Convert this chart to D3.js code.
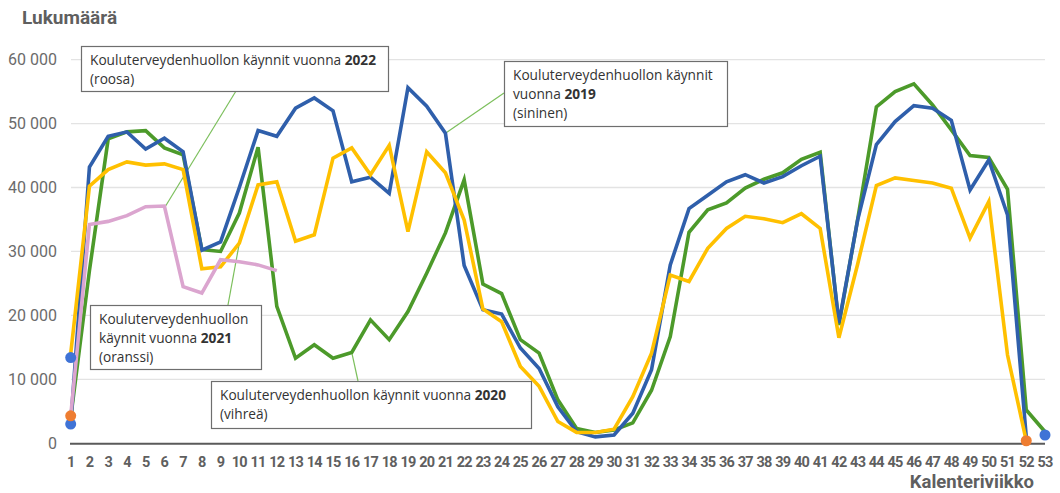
<!DOCTYPE html>
<html>
<head>
<meta charset="utf-8">
<script src="https://cdn.jsdelivr.net/npm/d3@7"></script>
<style>
  body { margin: 0; background: #fff; }
  svg { display: block; }
</style>
</head>
<body>
<svg id="chart" width="1060" height="493"></svg>
<script>
// data ---------------------------------------------------------------
var weeks = d3.range(1, 54);
var yTicks = [0, 10000, 20000, 30000, 40000, 50000, 60000];

// 2019 (sininen)
var visits2019 = [3000, 43200, 48000, 48700, 46000, 47700, 45600, 30200, 31500, 40000,
  48900, 48000, 52400, 54000, 52000, 40900, 41600, 39100, 55600, 52700,
  48500, 27800, 20900, 20200, 14900, 11700, 5700, 1800, 1000, 1300,
  4700, 11500, 27900, 36700, 38800, 40900, 42000, 40700, 41700, 43400,
  44900, 18800, 34900, 46700, 50300, 52800, 52400, 50500, 39600, 44300,
  35700, 1000];
// 2020 (vihreä)
var visits2020 = [4000, 27000, 47600, 48700, 48900, 46200, 45100, 30300, 30000, 36000,
  46300, 21400, 13300, 15400, 13300, 14200, 19300, 16200, 20600, 26600,
  32900, 41200, 24900, 23400, 16200, 14100, 6800, 2300, 1700, 2100,
  3200, 8300, 16700, 33000, 36500, 37600, 39900, 41300, 42300, 44400,
  45500, 18500, 35000, 52600, 55000, 56200, 52900, 49000, 45000, 44700,
  39700, 5200, 1800];
// 2021 (oranssi)
var visits2021 = [14000, 40200, 42800, 44000, 43500, 43700, 42800, 27300, 27600, 31300,
  40400, 40900, 31600, 32600, 44600, 46200, 42000, 46600, 33100, 45600,
  42300, 34900, 21000, 19000, 12000, 8900, 3400, 1700, 1700, 2200,
  7300, 14100, 26300, 25300, 30500, 33600, 35500, 35100, 34500, 35900,
  33600, 16500, 28000, 40300, 41500, 41100, 40700, 39900, 32100, 37800,
  13800, 400];
// 2022 (roosa)
var visits2022 = [4300, 34200, 34700, 35600, 37000, 37100, 24500, 23500, 28700, 28400,
  27900, 27000];

// single markers: week, value, colour
var markerWeeks = [1, 1, 1, 52, 53];
var markerValues = [13400, 3000, 4300, 400, 1300];
var markerColors = ["#3f73d6", "#3f73d6", "#ee7d31", "#ee7d31", "#3f73d6"];

var seriesNames = ["2020", "2019", "2021", "2022"];
var seriesData = [visits2020, visits2019, visits2021, visits2022];
var seriesColors = ["#4c9a2a", "#2f5fab", "#ffc000", "#dba5cf"];

// chart --------------------------------------------------------------
var svg = d3.select("#chart");
var x = d3.scaleLinear().domain([1, 53]).range([70.7, 1045]);
var y = d3.scaleLinear().domain([0, 60000]).range([443.3, 59.6]);

var fmt = function (d) { return d3.format(",")(d).replace(/,/g, " "); };
var axisFont = "Roboto, 'Liberation Sans', sans-serif";

// gridlines
svg.append("g")
  .selectAll("line")
  .data(yTicks.slice(1))
  .join("line")
  .attr("x1", 71).attr("x2", 1045)
  .attr("y1", d => y(d)).attr("y2", d => y(d))
  .attr("stroke", "#e3e3e3")
  .attr("stroke-width", 1.3);

// y labels
svg.append("g")
  .selectAll("text")
  .data(yTicks)
  .join("text")
  .attr("x", 57)
  .attr("y", d => y(d) + 5.5)
  .attr("text-anchor", "end")
  .attr("font-family", axisFont)
  .attr("font-size", 16)
  .attr("fill", "#6b6b6b")
  .text(fmt);

// baseline
svg.append("line")
  .attr("x1", 70).attr("x2", 1045)
  .attr("y1", y(0) + 0.5).attr("y2", y(0) + 0.5)
  .attr("stroke", "#5a5a5a")
  .attr("stroke-width", 2);

// x labels
svg.append("g")
  .selectAll("text")
  .data(weeks)
  .join("text")
  .attr("x", d => x(d))
  .attr("y", 467)
  .attr("text-anchor", "middle")
  .attr("font-family", axisFont)
  .attr("font-weight", "bold")
  .attr("font-size", 14.5)
  .attr("letter-spacing", -0.8)
  .attr("fill", "#5f5f5f")
  .text(d => d);

// axis titles
svg.append("text")
  .attr("x", 22).attr("y", 24)
  .attr("font-family", axisFont)
  .attr("font-weight", "bold")
  .attr("font-size", 19)
  .attr("fill", "#5f5f5f")
  .text("Lukumäärä");

svg.append("text")
  .attr("x", 1034).attr("y", 488)
  .attr("text-anchor", "end")
  .attr("font-family", axisFont)
  .attr("font-weight", "bold")
  .attr("font-size", 18.5)
  .attr("fill", "#5f5f5f")
  .text("Kalenteriviikko");

// annotation leaders (drawn under the lines)
var leaderColor = "#7cbf5c";
function leader(x1, y1, week, value) {
  svg.append("line")
    .attr("x1", x1).attr("y1", y1)
    .attr("x2", x(week)).attr("y2", y(value))
    .attr("stroke", leaderColor)
    .attr("stroke-width", 1.2);
}
leader(236, 91, 6, visits2022[5] - 300);
leader(504, 93, 21, visits2019[20]);
leader(228, 305, 10, visits2021[9]);
leader(358, 381, 16, visits2020[15]);

// lines
var line = d3.line()
  .x((d, i) => x(i + 1))
  .y(d => y(d));

svg.append("g")
  .selectAll("path")
  .data(seriesData)
  .join("path")
  .attr("d", line)
  .attr("fill", "none")
  .attr("stroke", (d, i) => seriesColors[i])
  .attr("stroke-width", 3.6)
  .attr("stroke-linejoin", "miter");

// markers
svg.append("g")
  .selectAll("circle")
  .data(markerWeeks)
  .join("circle")
  .attr("cx", d => x(d))
  .attr("cy", (d, i) => y(markerValues[i]))
  .attr("r", 5.5)
  .attr("fill", (d, i) => markerColors[i]);

// annotation boxes
function box(bx, by, bw, bh, lines) {
  var g = svg.append("g");
  g.append("rect")
    .attr("x", bx + 0.5).attr("y", by + 0.5)
    .attr("width", bw).attr("height", bh)
    .attr("fill", "#fff")
    .attr("stroke", "#6e6e6e")
    .attr("stroke-width", 1.2);
  lines.forEach(function (l, i) {
    var t = g.append("text")
      .attr("x", bx + 9)
      .attr("y", by + 19 + i * 19)
      .attr("font-family", "'Open Sans', 'Noto Sans', sans-serif")
      .attr("font-size", 13.7)
      .attr("fill", "#333");
    t.append("tspan").text(l[0]);
    if (l[1]) t.append("tspan").attr("font-weight", "bold").text(l[1]);
  });
}

box(81, 46, 307, 45, [["Kouluterveydenhuollon käynnit vuonna ", "2022"], ["(roosa)"]]);
box(504, 61, 223, 65, [["Kouluterveydenhuollon käynnit"], ["vuonna ", "2019"], ["(sininen)"]]);
box(90, 305, 171, 64, [["Kouluterveydenhuollon"], ["käynnit vuonna ", "2021"], ["(oranssi)"]]);
box(211, 381, 320, 47, [["Kouluterveydenhuollon käynnit vuonna ", "2020"], ["(vihreä)"]]);
</script>
</body>
</html>
